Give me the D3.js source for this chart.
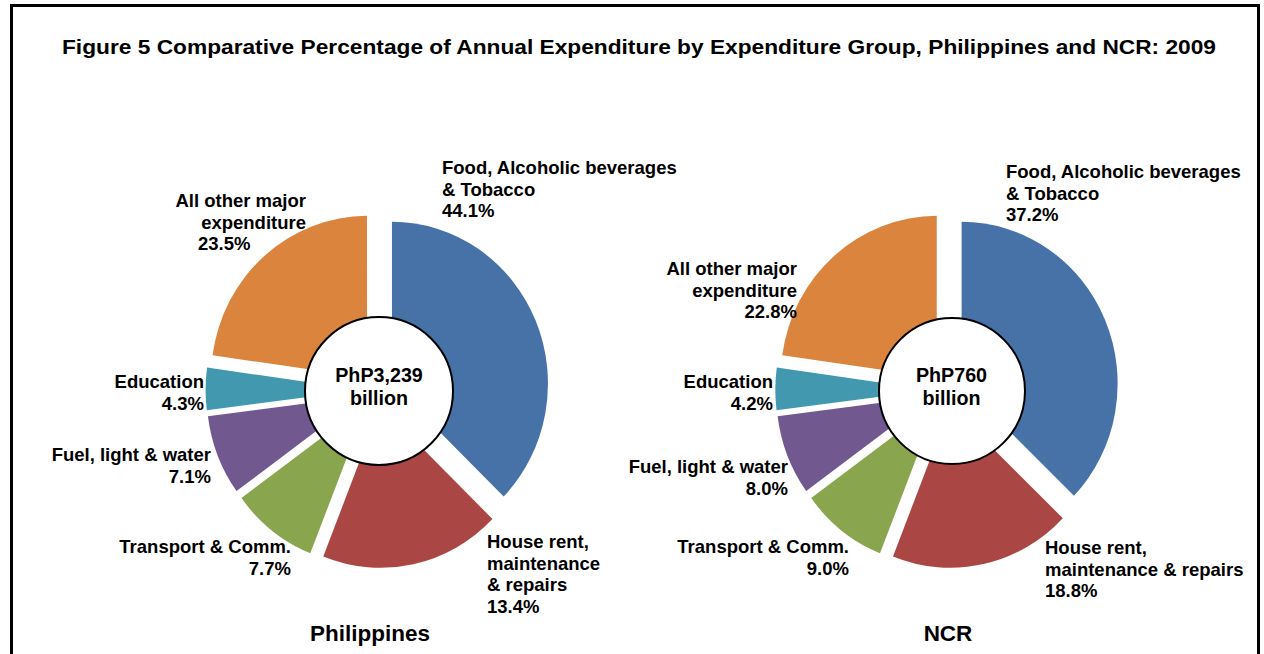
<!DOCTYPE html>
<html>
<head>
<meta charset="utf-8">
<script src="https://cdn.jsdelivr.net/npm/d3@7"></script>
<style>
  body { margin: 0; background: #fff; }
  text { font-family: "Liberation Sans", Arial, sans-serif; font-weight: bold; fill: #000; }
</style>
</head>
<body>
<svg id="chart" width="1264" height="654"></svg>
<script>
  var categories = ["Food", "House rent", "Transport", "Fuel", "Education", "All other"];

  // label text, as printed
  var labelLines = [
    ["Food, Alcoholic beverages", "& Tobacco"],
    ["House rent,", "maintenance", "& repairs"],
    ["Transport & Comm."],
    ["Fuel, light & water"],
    ["Education"],
    ["All other major", "expenditure"]
  ];
  var ncrLabelLines = [
    ["Food, Alcoholic beverages", "& Tobacco"],
    ["House rent,", "maintenance & repairs"],
    ["Transport & Comm."],
    ["Fuel, light & water"],
    ["Education"],
    ["All other major", "expenditure"]
  ];

  var phPercent  = [44.1, 13.4, 7.7, 7.1, 4.3, 23.5];
  var ncrPercent = [37.2, 18.8, 9.0, 8.0, 4.2, 22.8];

  // slice sizes as drawn (the Philippines pie in the source is drawn with NCR-like shares)
  var phSlices  = [37.3, 18.7, 9.0, 8.0, 4.2, 22.8];
  var ncrSlices = [37.2, 18.8, 9.0, 8.0, 4.2, 22.8];

  var colors = ["#4672A8", "#AA4644", "#89A54E", "#71588F", "#4198AF", "#DB843D"];

  var svg = d3.select("#chart");

  svg.append("rect")
      .attr("x", 11.5)
      .attr("y", 5.5)
      .attr("width", 1247)
      .attr("height", 700)
      .attr("fill", "none")
      .attr("stroke", "#000")
      .attr("stroke-width", 3);

  svg.append("text")
      .attr("x", 62)
      .attr("y", 53.5)
      .attr("textLength", 1154)
      .attr("lengthAdjust", "spacingAndGlyphs")
      .style("font-size", "20px")
      .text("Figure 5 Comparative Percentage of Annual Expenditure by Expenditure Group, Philippines and NCR: 2009");

  var radius = 156,
      explode = 15.8,
      squash = 1.037,
      lineH = 21.5;

  var pie = d3.pie().sort(null).value(function(d) { return d; });
  var arc = d3.arc().innerRadius(0).outerRadius(radius);

  function drawPie(cfg) {
    var g = svg.append("g")
        .attr("transform", "translate(" + cfg.cx + "," + cfg.cy + ") scale(1," + squash + ")");

    g.selectAll("path")
        .data(pie(cfg.slices))
      .enter().append("path")
        .attr("d", arc)
        .attr("fill", function(d, i) { return colors[i]; })
        .attr("transform", function(d) {
          var a = (d.startAngle + d.endAngle) / 2;
          return "translate(" + (Math.sin(a) * explode) + "," + (-Math.cos(a) * explode) + ")";
        });

    svg.append("circle")
        .attr("cx", cfg.hole[0])
        .attr("cy", cfg.hole[1])
        .attr("r", cfg.hole[2])
        .attr("fill", "#fff")
        .attr("stroke", "#000")
        .attr("stroke-width", 2);

    var centre = svg.append("text")
        .attr("text-anchor", "middle")
        .style("font-size", "19.7px");
    cfg.total.forEach(function(t, i) {
      centre.append("tspan")
          .attr("x", cfg.totalPos[0])
          .attr("y", cfg.totalPos[1] + i * 23)
          .text(t);
    });

    categories.forEach(function(c, i) {
      var p = cfg.labelPos[i];
      var lines = cfg.lines[i].concat([cfg.percent[i].toFixed(1) + "%"]);
      var t = svg.append("text")
          .style("font-size", "18.5px");
      lines.forEach(function(line, j) {
        var isPct = j === lines.length - 1;
        t.append("tspan")
            .attr("x", isPct && p.px != null ? p.px : p.x)
            .attr("y", p.y + j * lineH)
            .attr("text-anchor", isPct && p.pa ? p.pa : p.a)
            .text(line);
      });
    });

    svg.append("text")
        .attr("x", cfg.namePos[0])
        .attr("y", cfg.namePos[1])
        .attr("text-anchor", "middle")
        .style("font-size", "22.5px")
        .text(cfg.name);
  }

  drawPie({
    name: "Philippines",
    namePos: [370, 641],
    cx: 377.4, cy: 390,
    slices: phSlices,
    percent: phPercent,
    lines: labelLines,
    hole: [379, 391, 74],
    total: ["PhP3,239", "billion"],
    totalPos: [379, 382],
    labelPos: [
      {x: 442, y: 174, a: "start"},
      {x: 487, y: 548, a: "start"},
      {x: 291, y: 553, a: "end"},
      {x: 211, y: 461, a: "end"},
      {x: 204, y: 388, a: "end"},
      {x: 306, y: 207, a: "end", px: 198, pa: "start"}
    ]
  });

  drawPie({
    name: "NCR",
    namePos: [948, 641],
    cx: 947.1, cy: 390,
    slices: ncrSlices,
    percent: ncrPercent,
    lines: ncrLabelLines,
    hole: [952, 391, 73],
    total: ["PhP760", "billion"],
    totalPos: [951.5, 382],
    labelPos: [
      {x: 1006, y: 178, a: "start"},
      {x: 1045, y: 554, a: "start"},
      {x: 849, y: 553, a: "end"},
      {x: 788, y: 473, a: "end"},
      {x: 773, y: 388, a: "end"},
      {x: 797, y: 275, a: "end"}
    ]
  });
</script>
</body>
</html>
